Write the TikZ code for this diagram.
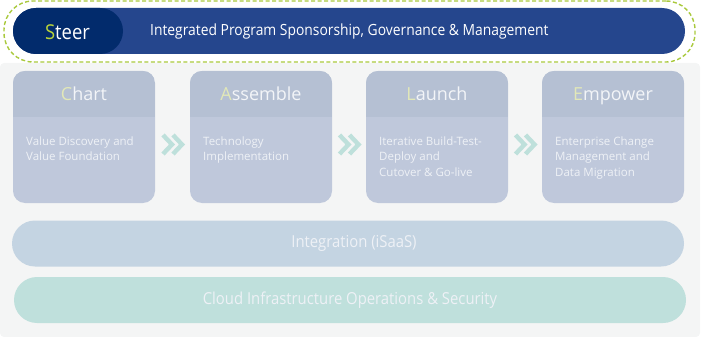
\documentclass[tikz,border=0pt]{standalone}
\usepackage{fontspec}
\setmainfont{Open Sans}
\newfontfamily\condfont[FakeStretch=0.9]{Open Sans}
\usetikzlibrary{calc}
\definecolor{panel}{HTML}{F4F5F5}
\definecolor{steerblue}{HTML}{25468D}
\definecolor{steernavy}{HTML}{022B6C}
\definecolor{dashgreen}{HTML}{A9C93C}
\definecolor{sgreen}{HTML}{B9D43A}
\definecolor{cardbody}{HTML}{BFC8DB}
\definecolor{cardhdr}{HTML}{B5C0D3}
\definecolor{titletext}{HTML}{F3F5F8}
\definecolor{titleletter}{HTML}{E2E8B8}
\definecolor{bodytext}{HTML}{EEF1F6}
\definecolor{integ}{HTML}{C4D4E2}
\definecolor{cloud}{HTML}{BFE0DC}
\definecolor{chevcol}{HTML}{BEE0DB}
\tikzset{
  cardbox/.style={fill=cardbody, rounded corners=12pt, minimum width=142pt, minimum height=132pt, inner sep=0pt},
  cardtitle/.style={text=titletext, font=\fontsize{18}{20}\selectfont, inner sep=0pt, anchor=base},
  cardtext/.style={text=bodytext, font=\fontsize{11.5}{15.5}\selectfont, align=left, inner sep=0pt, anchor=north west},
  bandbar/.style={rounded corners=23pt, minimum width=672pt, minimum height=46pt, inner sep=0pt},
  bandtext/.style={text=bodytext, font=\condfont\fontsize{16.5}{18}\selectfont, inner sep=0pt},
  chevron/.style={draw=chevcol, line width=4.4pt, miter limit=10},
}
\newcommand\mkcard[5]{%
  \node[cardbox] (#1) at (#2+71,137) {};
  \begin{scope}
    \clip[rounded corners=12pt] (#2,71) rectangle (#2+142,203);
    \fill[cardhdr] (#2,71) rectangle (#2+142,117);
  \end{scope}
  \node[cardtitle] (#1title) at (#2+71,100.5) {\textcolor{titleletter}{#3}#4};
  \node[cardtext] (#1body) at (#2+13,136.5) {#5};
}
\newcommand\mkchev[1]{%
  \foreach \d in {-5,5} {
    \draw[chevron] ($(#1)+(\d-4.5,-9.5)$) -- ($(#1)+(\d+4.5,0)$) -- ($(#1)+(\d-4.5,9.5)$);
  }
}
\begin{document}
\begin{tikzpicture}[x=1pt,y=-1pt]
\useasboundingbox (0,0) rectangle (702,337);
\fill[panel, rounded corners=4pt] (0,63) rectangle (700,337);
% steer
\node[draw=dashgreen, dashed, dash pattern=on 4pt off 2.5pt, line width=1.4pt, rounded corners=29pt,
      minimum width=691pt, minimum height=61pt, inner sep=0pt] (outline) at (349.5,31.5) {};
\node[fill=steerblue, rounded corners=23pt, minimum width=672pt, minimum height=46pt, inner sep=0pt] (steerbar) at (349,31) {};
\node[fill=steernavy, rounded corners=23pt, minimum width=110pt, minimum height=46pt, inner sep=0pt] (steerpill) at (68,31) {};
\node[text=white, font=\condfont\fontsize{20.5}{22}\selectfont, inner sep=0pt] (steerlabel) at (67.5,32) {\textcolor{sgreen}{S}teer};
\node[text=white, font=\condfont\fontsize{15.4}{17}\selectfont, inner sep=0pt, anchor=west] (steertext) at (150,32) {Integrated Program Sponsorship, Governance \& Management};
% cards
\mkcard{chart}{13}{C}{hart}{Value Discovery and\\Value Foundation}
\mkcard{assemble}{190}{A}{ssemble}{Technology\\Implementation}
\mkcard{launch}{366}{L}{aunch}{Iterative Build-Test-\\Deploy and\\Cutover \& Go-live}
\mkcard{empower}{542}{E}{mpower}{Enterprise Change\\Management and\\Data Migration}
% chevrons
\coordinate (c1) at ($(chart.east)!0.5!(assemble.west)+(0,7.5)$);
\coordinate (c2) at ($(assemble.east)!0.5!(launch.west)+(0,7.5)$);
\coordinate (c3) at ($(launch.east)!0.5!(empower.west)+(0,7.5)$);
\mkchev{c1}
\mkchev{c2}
\mkchev{c3}
% bands
\node[bandbar, fill=integ] (integration) at (348,243.5) {};
\node[bandtext] (integrationtext) at ($(integration.center)+(6,0)$) {Integration (iSaaS)};
\node[bandbar, fill=cloud] (cloudbar) at (350,300) {};
\node[bandtext] (cloudtext) at (cloudbar.center) {Cloud Infrastructure Operations \& Security};
\end{tikzpicture}
\end{document}
